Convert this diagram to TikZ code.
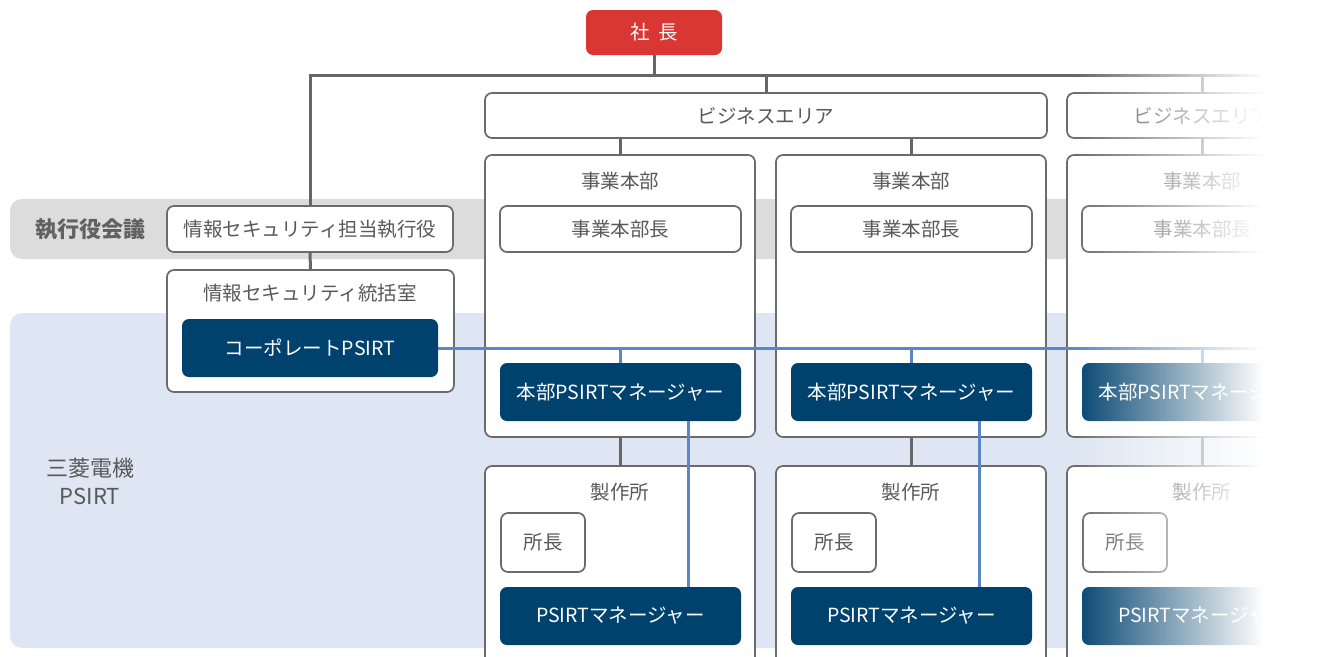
\documentclass[tikz,border=0pt]{standalone}
\usepackage{fontspec}
\setmainfont{Noto Sans CJK JP}
\usetikzlibrary{fadings}
\definecolor{redc}{HTML}{D83734}
\definecolor{navy}{HTML}{00426E}
\definecolor{bluebg}{HTML}{DDE6F2}
\definecolor{graybg}{HTML}{DCDCDC}
\definecolor{lineg}{HTML}{666666}
\definecolor{boxg}{HTML}{6B6B6B}
\definecolor{blueln}{HTML}{5B87C7}
\definecolor{txtg}{HTML}{595959}
\tikzfading[name=fadeR, left color=transparent!100, right color=transparent!0]
\begin{document}
\begin{tikzpicture}[x=1pt,y=-1pt,
  every node/.style={inner sep=0pt, outer sep=0pt, font=\fontsize{19.5}{22}\selectfont, text=txtg},
  box/.style={draw=boxg, line width=1.7pt, rounded corners=7pt, fill=white},
  dbox/.style={fill=navy, rounded corners=7pt, text=white},
  conn/.style={draw=lineg, line width=3pt},
  bconn/.style={draw=blueln, line width=3pt},
  bigtxt/.style={font=\fontsize{22}{28}\selectfont, text=txtg},
]
\useasboundingbox (0,0) rectangle (1333,656);
\clip (0,0) rectangle (1333,656);
% bands
\fill[graybg, rounded corners=12pt] (10,199) rectangle (1400,259);
\fill[bluebg, rounded corners=12pt] (10,313) rectangle (1400,648);
\node[bigtxt, font=\fontsize{22}{28}\selectfont\bfseries, text=txtg!95!white] (meet) at (90,229) {執行役会議};
\node[bigtxt, align=center] (org) at (90,481) {三菱電機\\PSIRT};

% top
\node[fill=redc, rounded corners=7pt, minimum width=136pt, minimum height=45pt, text=white] (pres) at (654,32.5) {社\hspace{0.45em}長};
\node[box, minimum width=562pt, minimum height=45pt] (ba1) at (766,115.5) {ビジネスエリア};
\node[box, minimum width=270pt, minimum height=45pt] (ba2) at (1202,115.5) {ビジネスエリア};

% corporate side
\node[box, minimum width=286pt, minimum height=46pt] (ciso) at (310,229) {情報セキュリティ担当執行役};
\node[box, minimum width=287pt, minimum height=122pt] (iso) at (310.5,331) {};
\node (isot) at (310,293) {情報セキュリティ統括室};
\node[dbox, minimum width=256pt, minimum height=58pt] (cps) at (310,348) {コーポレートPSIRT};

% columns
\foreach \i/\cx in {1/620,2/911,3/1202}{
  \node[box, minimum width=270pt, minimum height=282pt] (hq\i) at (\cx,296) {};
  \node (hqt\i) at (\cx,181) {事業本部};
  \node[box, minimum width=241pt, minimum height=46pt] (hqh\i) at (\cx+0.5,229) {事業本部長};
  \node[dbox, minimum width=241pt, minimum height=58pt] (hqp\i) at (\cx+0.5,392) {本部PSIRTマネージャー};
  \node[box, minimum width=270pt, minimum height=206pt] (fac\i) at (\cx,569) {};
  \node (fact\i) at (\cx,492) {製作所};
  \node[box, minimum width=84pt, minimum height=59pt] (dir\i) at (\cx-77,542.5) {所長};
  \node[dbox, minimum width=241pt, minimum height=58pt] (fpm\i) at (\cx+0.5,616) {PSIRTマネージャー};
}

% gray connectors
\coordinate (jL) at (310,75);
\coordinate (jR) at (1333,75);
\draw[conn] (ciso.north) -- (jL) -- (jR);
\draw[conn] (pres.south) -- (pres.south |- jL);
\draw[conn] (ba1.north) -- (ba1.north |- jL);
\draw[conn] (ba2.north) -- (ba2.north |- jL);
\draw[conn] (ciso.south) -- (iso.north);
\draw[conn] (hq1.north) -- (hq1.north |- ba1.south);
\draw[conn] (hq2.north) -- (hq2.north |- ba1.south);
\draw[conn] (hq3.north) -- (hq3.north |- ba2.south);
\foreach \i in {1,2,3}{
  \draw[conn] (hq\i.south) -- (fac\i.north);
}

% blue connectors
\coordinate (bR) at (1333,348);
\draw[bconn] (cps.east) -- (bR);
\foreach \i in {1,2,3}{
  \draw[bconn] (hqp\i.north -| hq\i.north) -- (hq\i.north |- cps.east);
}
\coordinate (b1t) at (688,421);
\coordinate (b2t) at (979,421);
\draw[bconn] (b1t) -- (b1t |- fpm1.north);
\draw[bconn] (b2t) -- (b2t |- fpm2.north);

% fade to white on the right
\fill[white, path fading=fadeR] (1072,0) rectangle (1263,656);
\fill[white] (1262,0) rectangle (1333,656);
\end{tikzpicture}
\end{document}
